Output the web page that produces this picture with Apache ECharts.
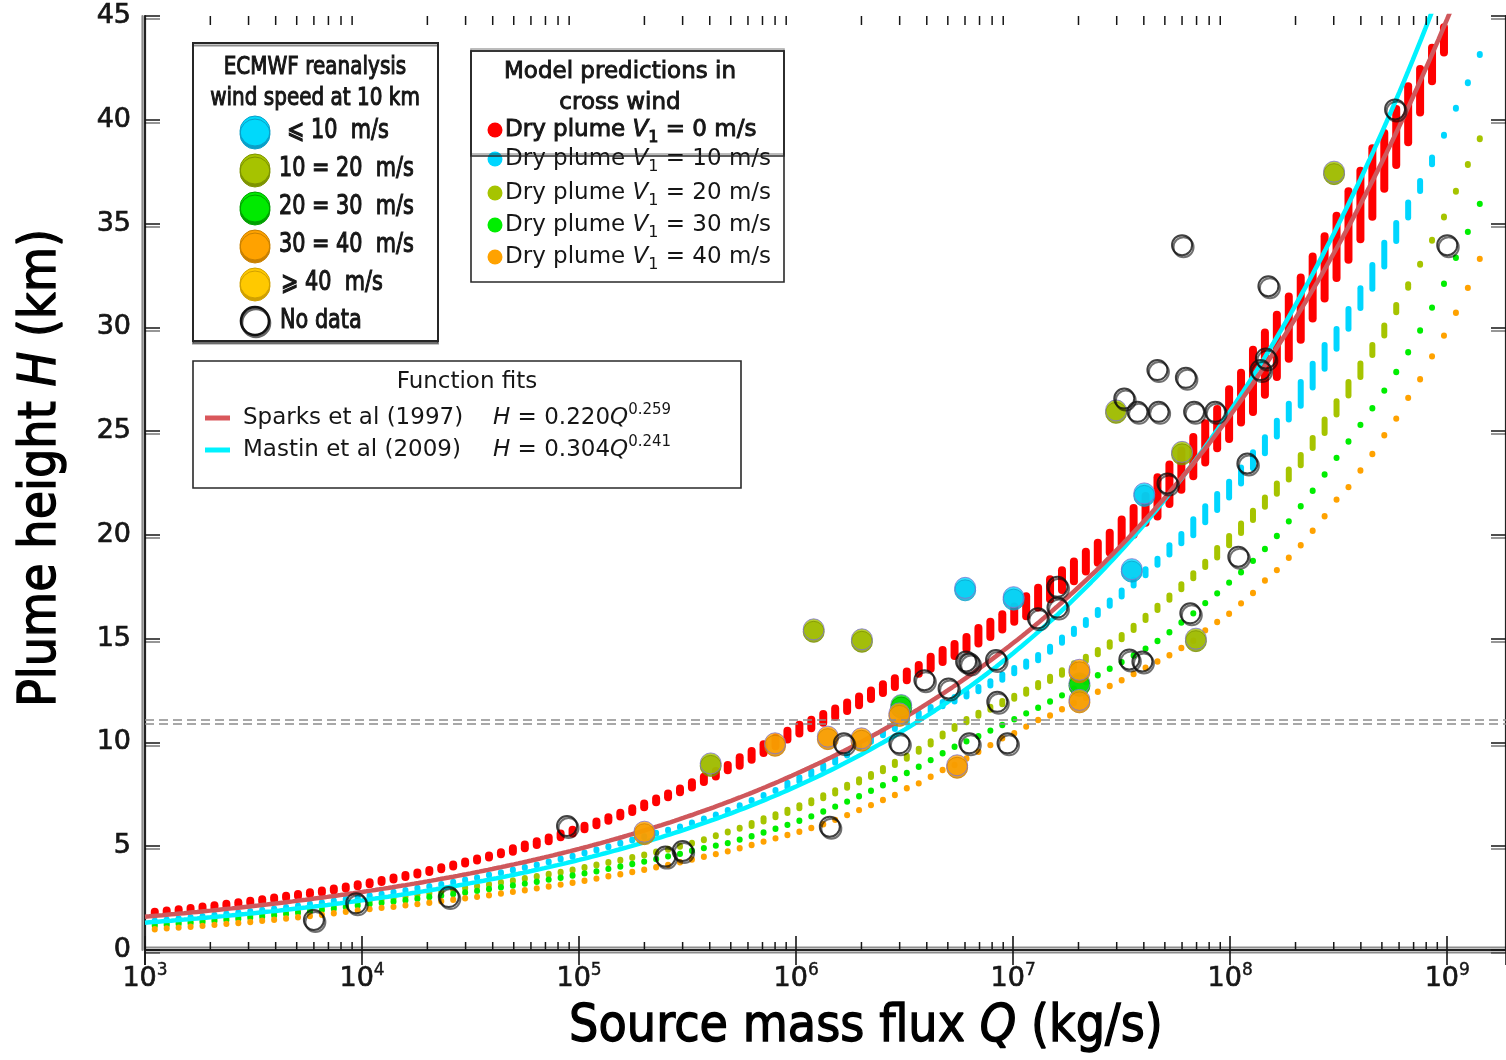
<!DOCTYPE html>
<html>
<head>
<meta charset="utf-8">
<script src="https://cdn.jsdelivr.net/npm/echarts@6/dist/echarts.min.js"></script>
<style>
html, body { margin: 0; padding: 0; background: #fff; }
#chart { width: 1506px; height: 1060px; }
</style>
</head>
<body>
<div id="chart"></div>
<script>
// ---------------------------------------------------------------
// Model grid: log10 of source mass flux Q (kg/s)
// ---------------------------------------------------------------
const massFluxExp = [
  3.045,3.100,3.155,3.210,3.265,3.320,3.375,3.430,3.485,3.540,
  3.595,3.650,3.705,3.760,3.815,3.870,3.925,3.980,4.035,4.090,
  4.145,4.200,4.255,4.310,4.365,4.420,4.475,4.530,4.585,4.640,
  4.695,4.750,4.805,4.860,4.915,4.970,5.025,5.080,5.135,5.190,
  5.245,5.300,5.355,5.410,5.465,5.520,5.575,5.630,5.685,5.740,
  5.795,5.850,5.905,5.960,6.015,6.070,6.125,6.180,6.235,6.290,
  6.345,6.400,6.455,6.510,6.565,6.620,6.675,6.730,6.785,6.840,
  6.895,6.950,7.005,7.060,7.115,7.170,7.225,7.280,7.335,7.390,
  7.445,7.500,7.555,7.610,7.665,7.720,7.775,7.830,7.885,7.940,
  7.995,8.050,8.105,8.160,8.215,8.270,8.325,8.380,8.435,8.490,
  8.545,8.600,8.655,8.710,8.765,8.820,8.875,8.930,8.985,9.040,
  9.095,9.150
];

// Dry plume, V1 = 0 m/s: central height (km) and half spread of the runs
const dryV0Mid = [
  1.80,1.86,1.92,1.98,2.05,2.11,2.18,2.25,2.33,2.40,
  2.48,2.56,2.65,2.74,2.82,2.92,3.01,3.12,3.22,3.33,
  3.44,3.56,3.68,3.81,3.94,4.07,4.22,4.36,4.51,4.66,
  4.82,4.99,5.15,5.33,5.52,5.70,5.90,6.10,6.31,6.52,
  6.74,6.97,7.21,7.45,7.69,7.96,8.22,8.49,8.79,9.08,
  9.38,9.70,10.02,10.35,10.64,10.89,11.16,11.43,11.72,12.00,
  12.30,12.59,12.88,13.21,13.52,13.84,14.16,14.45,14.79,15.14,
  15.45,15.81,16.18,16.56,16.98,17.38,17.82,18.24,18.71,19.14,
  19.63,20.09,20.65,21.23,21.83,22.44,23.12,23.77,24.43,25.12,
  25.82,26.61,27.42,28.25,29.11,29.99,30.90,31.92,32.89,33.88,
  34.91,35.89,36.98,38.02,39.17,40.27,41.40,42.66,43.85
];
const dryV0Half = [
  0,0,0,0,0,0,0,0,0,0,
  0,0,0,0,0,0,0,0,0,0,
  0,0,0,0,0,0,0,0,0,0,
  0.04,0.04,0.04,0.04,0.04,0.04,0.04,0.04,0.04,0.04,
  0.04,0.04,0.04,0.04,0.04,0.08,0.08,0.08,0.08,0.16,
  0.16,0.16,0.16,0.16,0.16,0.16,0.16,0.16,0.16,0.16,
  0.16,0.16,0.16,0.16,0.16,0.24,0.24,0.24,0.24,0.32,
  0.32,0.32,0.32,0.43,0.43,0.43,0.43,0.43,0.43,0.43,
  0.43,0.6,0.6,0.6,0.9,0.9,0.9,0.9,0.9,0.9,
  1.15,1.15,1.45,1.45,1.45,1.45,1.45,1.45,1.45,1.45,
  1.6,1.6,1.6,1.3,1.3,1.3,1.0,0.76,0.56
];

// Dry plume, V1 = 10 m/s
const dryV10Mid = [
  1.40,1.45,1.50,1.56,1.61,1.67,1.73,1.79,1.85,1.91,
  1.98,2.05,2.12,2.20,2.28,2.36,2.44,2.52,2.61,2.69,
  2.78,2.87,2.97,3.06,3.16,3.27,3.37,3.48,3.61,3.72,
  3.85,3.97,4.10,4.24,4.38,4.52,4.67,4.82,4.98,5.14,
  5.30,5.46,5.62,5.77,5.93,6.12,6.31,6.51,6.72,6.95,
  7.20,7.44,7.69,7.95,8.22,8.52,8.81,9.13,9.47,9.85,
  10.14,10.45,10.75,11.05,11.33,11.60,11.85,12.08,12.32,12.57,
  12.85,13.15,13.46,13.77,14.09,14.49,14.93,15.35,15.78,16.26,
  16.71,17.18,17.70,18.20,18.71,19.28,19.82,20.37,20.99,21.58,
  22.18,22.86,23.60,24.32,25.12,25.94,26.79,27.67,28.58,29.44,
  30.41,31.41,32.43,33.50,34.59,35.65,36.81,38.02,39.26,40.55,
  41.78,43.15
];
const dryV10Half = [
  0,0,0,0,0,0,0,0,0,0,
  0,0,0,0,0,0,0,0,0,0,
  0,0,0,0,0,0,0,0,0,0,
  0,0,0,0,0,0,0,0,0,0,
  0,0,0,0,0,0,0,0,0,0,
  0,0,0,0.08,0.08,0.08,0.08,0.08,0.08,0.08,
  0.08,0.08,0.08,0.08,0.08,0.08,0.08,0.08,0.08,0.08,
  0.08,0.1,0.1,0.1,0.1,0.1,0.1,0.1,0.1,0.1,
  0.1,0.12,0.12,0.12,0.12,0.2,0.2,0.36,0.36,0.36,
  0.36,0.36,0.36,0.36,0.36,0.36,0.55,0.55,0.55,0.45,
  0.45,0.45,0.55,0.55,0.41,0.34,0.22,0.14,0,0,
  0,0
];

// Dry plume, V1 = 20 m/s
const dryV20Mid = [
  1.25,1.30,1.35,1.39,1.45,1.50,1.55,1.61,1.67,1.73,
  1.79,1.85,1.92,1.99,2.07,2.14,2.22,2.30,2.37,2.44,
  2.51,2.58,2.66,2.74,2.82,2.90,2.99,3.07,3.16,3.25,
  3.34,3.44,3.54,3.65,3.75,3.86,3.97,4.09,4.21,4.33,
  4.46,4.58,4.72,4.85,5.00,5.14,5.31,5.50,5.68,5.86,
  6.05,6.27,6.47,6.68,6.90,7.14,7.38,7.62,7.89,8.15,
  8.41,8.69,8.99,9.29,9.62,9.98,10.36,10.72,11.05,11.36,
  11.65,11.92,12.18,12.45,12.76,13.06,13.37,13.71,14.03,14.35,
  14.72,15.07,15.52,16.00,16.48,16.98,17.50,18.03,18.58,19.14,
  19.72,20.32,20.94,21.58,22.23,22.91,23.60,24.43,25.23,26.12,
  27.04,27.93,28.91,29.85,30.90,31.99,33.04,34.20,35.32,36.56,
  37.84,39.08
];
const dryV20Half = [
  0,0,0,0,0,0,0,0,0,0,
  0,0,0,0,0,0,0,0,0,0,
  0,0,0,0,0,0,0,0,0,0,
  0,0,0,0,0,0,0,0,0,0,
  0,0,0,0,0,0,0,0,0,0,
  0.05,0.05,0.05,0.05,0.05,0.05,0.05,0.05,0.05,0.05,
  0.05,0.05,0.05,0.05,0.05,0.05,0.05,0.05,0.05,0.05,
  0.05,0.05,0.05,0.08,0.08,0.08,0.08,0.08,0.08,0.08,
  0.08,0.08,0.08,0.08,0.08,0.08,0.1,0.1,0.1,0.2,
  0.2,0.2,0.2,0.2,0.22,0.22,0.22,0.22,0.3,0.3,
  0.3,0.3,0.22,0.22,0.15,0.06,0,0,0,0,
  0,0
];

// Dry plume, V1 = 30 m/s
const dryV30Mid = [
  1.16,1.20,1.25,1.29,1.34,1.39,1.44,1.49,1.55,1.60,
  1.66,1.73,1.79,1.85,1.92,1.99,2.07,2.14,2.21,2.27,
  2.34,2.40,2.47,2.55,2.62,2.70,2.77,2.85,2.94,3.02,
  3.11,3.20,3.29,3.39,3.48,3.59,3.69,3.79,3.91,4.02,
  4.14,4.26,4.38,4.51,4.63,4.78,4.91,5.03,5.15,5.32,
  5.48,5.66,5.84,6.03,6.23,6.44,6.67,6.91,7.15,7.41,
  7.67,7.94,8.24,8.53,8.83,9.15,9.48,9.79,10.05,10.30,
  10.57,10.84,11.12,11.40,11.67,11.97,12.27,12.59,12.91,13.24,
  13.55,13.87,14.19,14.52,14.89,15.31,15.78,16.22,16.71,17.18,
  17.70,18.20,18.75,19.32,19.95,20.65,21.38,22.13,22.91,23.71,
  24.50,25.30,26.10,26.95,27.85,28.80,29.85,30.95,32.10,33.35,
  34.60,35.95
];

// Dry plume, V1 = 40 m/s
const dryV40Mid = [
  1.00,1.04,1.08,1.12,1.16,1.21,1.26,1.30,1.35,1.41,
  1.46,1.52,1.58,1.64,1.70,1.77,1.84,1.91,1.97,2.03,
  2.08,2.15,2.21,2.28,2.35,2.42,2.49,2.56,2.64,2.72,
  2.80,2.88,2.97,3.06,3.15,3.24,3.34,3.44,3.55,3.65,
  3.76,3.87,3.99,4.10,4.23,4.36,4.49,4.62,4.75,4.90,
  5.06,5.22,5.38,5.54,5.70,5.88,6.06,6.27,6.50,6.74,
  6.98,7.23,7.47,7.79,8.03,8.35,8.67,8.91,9.23,9.55,
  9.87,10.20,10.44,10.76,11.08,11.30,11.60,11.90,12.15,12.44,
  12.72,13.00,13.30,13.60,13.90,14.20,14.55,14.90,15.40,15.80,
  16.20,16.70,17.20,17.80,18.30,18.90,19.50,20.20,20.90,21.70,
  22.30,23.10,23.90,24.80,25.60,26.60,27.50,28.60,29.60,30.70,
  31.90,33.30
];

// ---------------------------------------------------------------
// Observed eruptions: [Q (kg/s), H (km)], grouped by ECMWF wind speed at 10 km
// ---------------------------------------------------------------
const obsWindBelow10 = [[6.01e6,17.45],[1.005e7,17.0],[3.52e7,18.35],[4.02e7,22.0]];
const obsWind10to20 = [[4.04e5,8.99],[1.205e6,15.45],[2.01e6,14.97],[2.98e7,26.0],[6.0e7,24.0],[6.95e7,15.0],[3.01e8,37.5]];
const obsWind20to30 = [[3.05e6,11.8],[2.02e7,12.85]];
const obsWind30to40 = [[2.0e5,5.7],[8.0e5,9.96],[1.4e6,10.28],[2.0e6,10.2],[2.99e6,11.4],[5.52e6,8.9],[2.02e7,13.5],[2.02e7,12.05]];
const obsWindAbove40 = [];
const obsNoWindData = [
  [6.0e3,1.45],[9.4e3,2.25],[2.51e4,2.55],[8.8e4,5.97],[2.5e5,4.5],[3.0e5,4.77],
  [1.43e6,5.94],[1.66e6,9.96],[2.99e6,9.96],[3.9e6,13.0],[5.04e6,12.6],[6.07e6,13.9],
  [6.3e6,13.8],[8.34e6,13.97],[6.28e6,9.96],[8.45e6,11.96],[9.42e6,9.96],[1.3e7,15.98],
  [1.6e7,16.5],[1.6e7,17.5],[3.43e7,14.0],[3.94e7,13.9],[3.25e7,26.57],[3.74e7,25.93],
  [4.68e7,25.93],[4.62e7,27.94],[6.25e7,27.57],[6.82e7,25.93],[8.53e7,25.93],[6.0e7,33.96],
  [5.14e7,22.48],[6.55e7,16.22],[1.09e8,18.95],[1.2e8,23.44],[1.38e8,27.94],[1.46e8,28.5],
  [1.5e8,31.98],[5.75e8,40.5],[1.0e9,33.96]
];

// ---------------------------------------------------------------
// Empirical fits H = a * Q^b
// ---------------------------------------------------------------
const fitNames = ['Sparks et al (1997)', 'Mastin et al (2009)'];
const fitCoef = [0.220, 0.304];
const fitPower = [0.259, 0.241];

// Tropopause reference band (km)
const tropopauseBand = [10.9, 11.1];

// Axis tick values
const heightTicks = [0, 5, 10, 15, 20, 25, 30, 35, 40, 45];
const fluxDecades = [3, 4, 5, 6, 7, 8, 9];

// ---------------------------------------------------------------
// Styling
// ---------------------------------------------------------------
const FONT = 'DejaVu Sans';
const INK = '#161616';
const Q_MIN = 1e3, Q_MAX = 1.8655e9, H_MIN = 0, H_MAX = 45;

const modelRuns = [
  { v: '0',  mid: dryV0Mid,  half: dryV0Half,  color: '#ff0000', w: 8, cap: 5 },
  { v: '10', mid: dryV10Mid, half: dryV10Half, color: '#00d6ff', w: 6, cap: 3.5 },
  { v: '20', mid: dryV20Mid, half: dryV20Half, color: '#a6c400', w: 6, cap: 3.5 },
  { v: '30', mid: dryV30Mid, half: null,       color: '#00ee00', w: 6, cap: 3.2 },
  { v: '40', mid: dryV40Mid, half: null,       color: '#ffa200', w: 6, cap: 3.2 }
];
const fitLineColors = ['#00f2ff', '#cf585c'];   // colours of the curves in the plot
const fitKeyColors  = ['#d9575b', '#00f2ff'];   // colours of the swatches in the key

const obsGroups = [
  { data: obsWind10to20,  fill: '#a6c300', rim: '#7d9300' },
  { data: obsWind20to30,  fill: '#00ea00', rim: '#00a400' },
  { data: obsWind30to40,  fill: '#ffa200', rim: '#d08200' },
  { data: obsWindAbove40, fill: '#ffc900', rim: '#d4a300' },
  { data: obsWindBelow10, fill: '#00d9fb', rim: '#0aa2cc' }
];

function capsuleRenderer(run) {
  return function (params, api) {
    const q = api.value(0), m = api.value(1), h = api.value(2);
    const top = api.coord([q, m + h]);
    const bot = api.coord([q, m - h]);
    const height = bot[1] - top[1] + 2 * run.cap;
    return {
      type: 'rect',
      shape: { x: top[0] - run.w / 2, y: top[1] - run.cap, width: run.w, height: height, r: Math.min(run.w / 2, height / 2) },
      style: { fill: run.color }
    };
  };
}

const series = [];

// model prediction dots
modelRuns.forEach(function (run) {
  series.push({
    type: 'custom',
    name: 'Dry plume V1 = ' + run.v + ' m/s',
    silent: true,
    clip: true,
    z: 2,
    encode: { x: 0, y: 1 },
    data: run.mid.map(function (m, i) {
      return [Math.pow(10, massFluxExp[i]), m, run.half ? run.half[i] : 0];
    }),
    renderItem: capsuleRenderer(run)
  });
});

// fitted curves, sampled along Q from the stated power laws
fitNames.forEach(function (name, k) {
  const pts = [];
  for (let e = 3.0; e <= 9.3001; e += 0.02) {
    pts.push([Math.pow(10, e), fitCoef[k] * Math.pow(10, fitPower[k] * e)]);
  }
  const s = {
    type: 'line',
    name: name,
    data: pts,
    showSymbol: false,
    silent: true,
    clip: true,
    z: 3,
    lineStyle: { color: fitLineColors[k], width: 4.5 }
  };
  if (k === 0) {
    s.markLine = {
      silent: true,
      symbol: 'none',
      label: { show: false },
      lineStyle: { color: '#8c8c8c', width: 1.5, type: [9, 5] },
      data: tropopauseBand.map(function (h) { return { yAxis: h }; })
    };
  }
  series.push(s);
});

// observations
obsGroups.forEach(function (g) {
  series.push({
    type: 'scatter',
    data: g.data,
    symbol: 'circle',
    symbolSize: 21,
    silent: true,
    z: 4,
    itemStyle: { color: g.fill, borderColor: '#7f76d2', borderWidth: 1, shadowColor: g.rim, shadowOffsetY: 2.5, shadowBlur: 0 }
  });
});
series.push({
  type: 'scatter',
  data: obsNoWindData,
  symbol: 'circle',
  symbolSize: 20,
  silent: true,
  z: 5,
  itemStyle: { color: 'rgba(0,0,0,0)', borderColor: '#111', borderWidth: 2, shadowColor: 'rgba(0,0,0,0.7)', shadowOffsetX: 1.5, shadowOffsetY: 2, shadowBlur: 0 }
});

// minor log ticks (2..9 x 10^n) on bottom and top frame
const minorTicks = [];
fluxDecades.forEach(function (n) {
  for (let k = 2; k <= 9; k++) {
    const q = k * Math.pow(10, n);
    if (q < Q_MAX) minorTicks.push([q, 0]);
  }
});
series.push({
  type: 'custom',
  silent: true,
  clip: false,
  z: 6,
  data: minorTicks,
  encode: { x: 0, y: 1 },
  renderItem: function (params, api) {
    const b = api.coord([api.value(0), H_MIN]);
    const t = api.coord([api.value(0), H_MAX]);
    return {
      type: 'group',
      children: [
        { type: 'line', shape: { x1: b[0], y1: b[1], x2: b[0], y2: b[1] - 8 }, style: { stroke: INK, lineWidth: 1.5 } },
        { type: 'line', shape: { x1: t[0], y1: t[1], x2: t[0], y2: t[1] + 9 }, style: { stroke: INK, lineWidth: 1.5 } }
      ]
    };
  }
});

// ---------------------------------------------------------------
// Keys and axis titles
// ---------------------------------------------------------------
function text(x, y, str, o) {
  o = o || {};
  const el = {
    type: 'text', x: x, y: y, z: 100,
    style: {
      text: str,
      fill: o.fill || INK,
      fontFamily: FONT,
      fontSize: o.size || 23,
      fontStyle: o.italic ? 'italic' : 'normal',
      align: o.align || 'left',
      verticalAlign: 'middle',
      stroke: o.bold ? INK : null,
      lineWidth: o.bold || 0,
      rich: o.rich || undefined
    }
  };
  if (o.scaleX) el.scaleX = o.scaleX;
  if (o.rotation) el.rotation = o.rotation;
  return el;
}
function richSet(size, bold) {
  const base = { fontFamily: FONT, fontSize: size, fill: INK, stroke: bold ? INK : null, lineWidth: bold || 0, lineHeight: size + 8 };
  return {
    n: Object.assign({}, base),
    i: Object.assign({}, base, { fontStyle: 'italic' }),
    sub: Object.assign({}, base, { fontSize: Math.round(size * 0.68), lineHeight: Math.round(size * 0.68), verticalAlign: 'bottom' }),
    sup: Object.assign({}, base, { fontSize: Math.round(size * 0.66), lineHeight: Math.round(size * 0.5), verticalAlign: 'top' })
  };
}

const graphic = [];

// wind speed key
const windLabels = ['⩽ 10  m/s', '10 = 20  m/s', '20 = 30  m/s', '30 = 40  m/s', '⩾ 40  m/s', 'No data'];
const windFill = ['#00d9fb', '#a6c300', '#00ea00', '#ffa200', '#ffc900', null];
const windRim = ['#0a9fc8', '#7d9300', '#00a000', '#c98000', '#d0a000', null];
const windRowY = [131, 169, 207, 245, 283, 321];
const windTextX = [287, 279, 279, 279, 281, 280];
graphic.push({ type: 'rect', z: 90, shape: { x: 193, y: 43, width: 245, height: 298 },
  style: { fill: '#fff', stroke: '#262626', lineWidth: 2, shadowColor: 'rgba(0,0,0,0.45)', shadowOffsetY: 2.5, shadowBlur: 0 } });
graphic.push(text(315, 67, 'ECMWF reanalysis', { size: 25, align: 'center', scaleX: 0.8, bold: 1.1 }));
graphic.push(text(315, 98, 'wind speed at 10 km', { size: 25, align: 'center', scaleX: 0.8, bold: 1.1 }));
windLabels.forEach(function (lab, k) {
  if (windFill[k]) {
    graphic.push({ type: 'circle', z: 100, shape: { cx: 255, cy: windRowY[k], r: 15 },
      style: { fill: windFill[k], stroke: windRim[k], lineWidth: 1, shadowColor: windRim[k], shadowOffsetY: 3, shadowBlur: 0 } });
  } else {
    graphic.push({ type: 'circle', z: 100, shape: { cx: 255, cy: windRowY[k], r: 14 },
      style: { fill: null, stroke: '#111', lineWidth: 2.6, shadowColor: 'rgba(0,0,0,0.6)', shadowOffsetX: 1, shadowOffsetY: 2, shadowBlur: 0 } });
  }
  graphic.push(text(windTextX[k], windRowY[k], lab, { size: 26, scaleX: 0.8, bold: 1.1 }));
});

// model key
graphic.push({ type: 'rect', z: 90, shape: { x: 471, y: 51, width: 313, height: 231 },
  style: { fill: '#fff', stroke: '#2a2a2a', lineWidth: 1.6 } });
graphic.push({ type: 'rect', z: 101, shape: { x: 471, y: 51, width: 313, height: 105 },
  style: { fill: null, stroke: '#2a2a2a', lineWidth: 1.6, shadowColor: 'rgba(0,0,0,0.35)', shadowOffsetY: -2, shadowBlur: 0 } });
graphic.push(text(620, 72, 'Model predictions in', { size: 23, align: 'center', bold: 0.9 }));
graphic.push(text(620, 103, 'cross wind', { size: 23, align: 'center', bold: 0.9 }));
const modelRowY = [130, 159, 193, 225, 257];
modelRuns.forEach(function (run, k) {
  graphic.push({ type: 'circle', z: 100, shape: { cx: 495, cy: modelRowY[k], r: 7.5 }, style: { fill: run.color } });
  const b = k === 0 ? 0.9 : 0;
  graphic.push(text(505, modelRowY[k], '{n|Dry plume }{i|V}{sub|1}{n| = ' + run.v + ' m/s}', { rich: richSet(23, b) }));
});

// fits key
graphic.push({ type: 'rect', z: 90, shape: { x: 193, y: 361, width: 548, height: 127 },
  style: { fill: '#fff', stroke: '#2a2a2a', lineWidth: 1.6 } });
graphic.push(text(467, 382, 'Function fits', { size: 23, align: 'center' }));
const fitRowY = [418, 450];
fitNames.forEach(function (name, k) {
  graphic.push({ type: 'line', z: 100, shape: { x1: 205, y1: fitRowY[k], x2: 230, y2: fitRowY[k] },
    style: { stroke: fitKeyColors[k], lineWidth: 5 } });
  graphic.push(text(243, fitRowY[k], name, { size: 23 }));
  graphic.push(text(493, fitRowY[k], '{i|H}{n| = ' + fitCoef[k].toFixed(3) + '}{i|Q}{sup|' + fitPower[k].toFixed(3) + '}', { rich: richSet(23, 0) }));
});

// axis titles
const titleRich = {
  n: { fontFamily: FONT, fontSize: 52, fill: '#000', stroke: '#000', lineWidth: 1.4 },
  i: { fontFamily: FONT, fontSize: 52, fontStyle: 'italic', fill: '#000', stroke: '#000', lineWidth: 1.4 }
};
graphic.push(text(866, 1027, '{n|Source mass flux }{i|Q}{n| (kg/s)}', { align: 'center', scaleX: 0.89, rich: titleRich }));
graphic.push(text(41, 468, '{n|Plume height }{i|H}{n| (km)}', { align: 'center', scaleX: 0.89, rotation: Math.PI / 2, rich: titleRich }));

// ---------------------------------------------------------------
// Chart
// ---------------------------------------------------------------
const axisLineStyle = { color: '#222', width: 2.2 };
const chart = echarts.init(document.getElementById('chart'), null, { renderer: 'canvas' });
chart.setOption({
  animation: false,
  backgroundColor: '#fff',
  grid: { left: 145, top: 16, width: 1362, height: 934, containLabel: false },
  xAxis: [
    {
      type: 'log', logBase: 10, min: Q_MIN, max: Q_MAX, position: 'bottom',
      axisLine: { show: true, lineStyle: Object.assign({ shadowColor: 'rgba(0,0,0,0.45)', shadowOffsetY: 2.5, shadowBlur: 0 }, axisLineStyle) },
      axisTick: { show: true, inside: true, length: 14, lineStyle: { color: INK, width: 1.6 } },
      axisLabel: {
        margin: 12,
        showMaxLabel: false,
        formatter: function (v) {
          const e = Math.log10(v), n = Math.round(e);
          if (Math.abs(e - n) > 1e-6 || fluxDecades.indexOf(n) < 0) return '';
          return '{b|10}{s|' + n + '}';
        },
        rich: {
          b: { fontFamily: FONT, fontSize: 27, color: INK, lineHeight: 34, textBorderColor: INK, textBorderWidth: 0.7 },
          s: { fontFamily: FONT, fontSize: 17, color: INK, lineHeight: 6, verticalAlign: 'top', textBorderColor: INK, textBorderWidth: 0.4 }
        }
      },
      splitLine: { show: false }
    },
    {
      type: 'log', logBase: 10, min: Q_MIN, max: Q_MAX, position: 'top',
      axisLine: { show: true, lineStyle: Object.assign({ shadowColor: 'rgba(0,0,0,0.45)', shadowOffsetY: -2.5, shadowBlur: 0 }, axisLineStyle) },
      axisTick: { show: true, inside: true, length: 15, lineStyle: { color: INK, width: 1.6 } },
      axisLabel: { show: false },
      splitLine: { show: false }
    }
  ],
  yAxis: [
    {
      type: 'value', min: H_MIN, max: H_MAX, interval: 5, position: 'left',
      axisLine: { show: true, lineStyle: Object.assign({ shadowColor: 'rgba(0,0,0,0.45)', shadowOffsetX: -2.5, shadowBlur: 0 }, axisLineStyle) },
      axisTick: { show: true, inside: true, length: 15, lineStyle: { color: INK, width: 1.5, shadowColor: 'rgba(0,0,0,0.55)', shadowOffsetY: 3, shadowBlur: 0 } },
      axisLabel: {
        margin: 14, fontFamily: FONT, fontSize: 27, color: INK, textBorderColor: INK, textBorderWidth: 0.7,
        formatter: function (v) { return heightTicks.indexOf(v) >= 0 ? String(v) : ''; }
      },
      splitLine: { show: false }
    },
    {
      type: 'value', min: H_MIN, max: H_MAX, interval: 5, position: 'right',
      axisLine: { show: true, lineStyle: axisLineStyle },
      axisTick: { show: true, inside: true, length: 15, lineStyle: { color: INK, width: 1.5, shadowColor: 'rgba(0,0,0,0.55)', shadowOffsetY: 3, shadowBlur: 0 } },
      axisLabel: { show: false },
      splitLine: { show: false }
    }
  ],
  graphic: graphic,
  series: series
});
</script>
</body>
</html>
